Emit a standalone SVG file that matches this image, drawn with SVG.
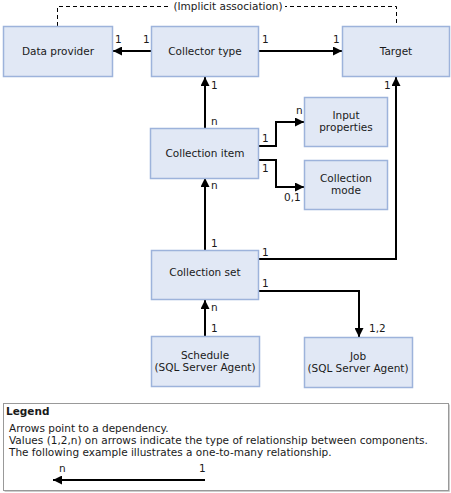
<svg xmlns="http://www.w3.org/2000/svg" width="451" height="493" viewBox="0 0 451 493">
<defs>
<style>
.box{fill:#E1E8F5;stroke:#9DB3DB;stroke-width:1.5}
.t{font-family:"DejaVu Sans",Verdana,sans-serif;font-size:10.5px;fill:#1a1a1a}
.c{text-anchor:middle}
.ln{fill:none;stroke:#000;stroke-width:2}
.dash{fill:none;stroke:#000;stroke-width:1;stroke-dasharray:4,3}
</style>
<marker id="ah" viewBox="0 0 10 10" refX="10" refY="5" markerWidth="4.5" markerHeight="4.5" orient="auto" markerUnits="strokeWidth">
<path d="M0,0 L10,5 L0,10 z" fill="#000"/>
</marker>
</defs>
<rect width="451" height="493" fill="#fff"/>

<g id="connectors">
<path class="dash" d="M57.5,26 V6.5 H396.5 V26"/>
<rect x="171" y="1" width="114" height="12" fill="#fff"/>
<text class="t c" x="228" y="10">(Implicit association)</text>
<path class="ln" d="M151,51 H113" marker-end="url(#ah)"/>
<path class="ln" d="M259,51 H342" marker-end="url(#ah)"/>
<path class="ln" d="M205,128 V77" marker-end="url(#ah)"/>
<path class="ln" d="M259,259 H396 V77" marker-end="url(#ah)"/>
<path class="ln" d="M259,146 H276 V122 H304" marker-end="url(#ah)"/>
<path class="ln" d="M259,160 H276 V187 H304" marker-end="url(#ah)"/>
<path class="ln" d="M205,250 V178" marker-end="url(#ah)"/>
<path class="ln" d="M259,291 H359 V337" marker-end="url(#ah)"/>
<path class="ln" d="M205,336 V300" marker-end="url(#ah)"/>
<text class="t" x="115" y="43">1</text>
<text class="t" x="143" y="43">1</text>
<text class="t" x="262" y="43">1</text>
<text class="t" x="333" y="43">1</text>
<text class="t" x="211" y="89">1</text>
<text class="t" x="211" y="125">n</text>
<text class="t" x="384" y="89">1</text>
<text class="t" x="262" y="256">1</text>
<text class="t" x="262" y="142">1</text>
<text class="t" x="296" y="114">n</text>
<text class="t" x="262" y="172">1</text>
<text class="t" x="284" y="201">0,1</text>
<text class="t" x="211" y="189">n</text>
<text class="t" x="211" y="247">1</text>
<text class="t" x="262" y="287">1</text>
<text class="t" x="369" y="332">1,2</text>
<text class="t" x="211" y="311">n</text>
<text class="t" x="211" y="332">1</text>
</g>

<g id="data-provider"><rect class="box" x="3.5" y="26.5" width="109" height="50"/><text class="t c" x="58" y="55">Data provider</text></g>
<g id="collector-type"><rect class="box" x="151.5" y="26.5" width="107" height="50"/><text class="t c" x="205" y="55">Collector type</text></g>
<g id="target"><rect class="box" x="342.5" y="26.5" width="107" height="50"/><text class="t c" x="396" y="55">Target</text></g>
<g id="collection-item"><rect class="box" x="150.5" y="128.5" width="108" height="50"/><text class="t c" x="205" y="157">Collection item</text></g>
<g id="input-properties"><rect class="box" x="304.5" y="97.5" width="83" height="49"/><text class="t c" x="346" y="119">Input</text><text class="t c" x="346" y="131">properties</text></g>
<g id="collection-mode"><rect class="box" x="304.5" y="160.5" width="83" height="49"/><text class="t c" x="346" y="182">Collection</text><text class="t c" x="346" y="194">mode</text></g>
<g id="collection-set"><rect class="box" x="151.5" y="250.5" width="107" height="49"/><text class="t c" x="205" y="276">Collection set</text></g>
<g id="schedule"><rect class="box" x="151.5" y="336.5" width="108" height="50"/><text class="t c" x="205" y="359">Schedule</text><text class="t c" x="205" y="371">(SQL Server Agent)</text></g>
<g id="job"><rect class="box" x="304.5" y="337.5" width="108" height="50"/><text class="t c" x="358" y="360">Job</text><text class="t c" x="358" y="372">(SQL Server Agent)</text></g>

<g id="legend">
<rect x="3.5" y="403.5" width="445" height="87" fill="#fff" stroke="#999" stroke-width="1"/>
<path d="M4.5,491.5 H449.5 V404.5" fill="none" stroke="#ccc" stroke-width="1"/>
<text class="t" x="6" y="415" font-weight="bold" font-size="12">Legend</text>
<text class="t" x="9" y="432">Arrows point to a dependency.</text>
<text class="t" x="9" y="444">Values (1,2,n) on arrows indicate the type of relationship between components.</text>
<text class="t" x="9" y="456">The following example illustrates a one-to-many relationship.</text>
<path class="ln" d="M205,480 H53" marker-end="url(#ah)"/>
<text class="t" x="59" y="472">n</text>
<text class="t" x="199" y="472">1</text>
</g>
</svg>
